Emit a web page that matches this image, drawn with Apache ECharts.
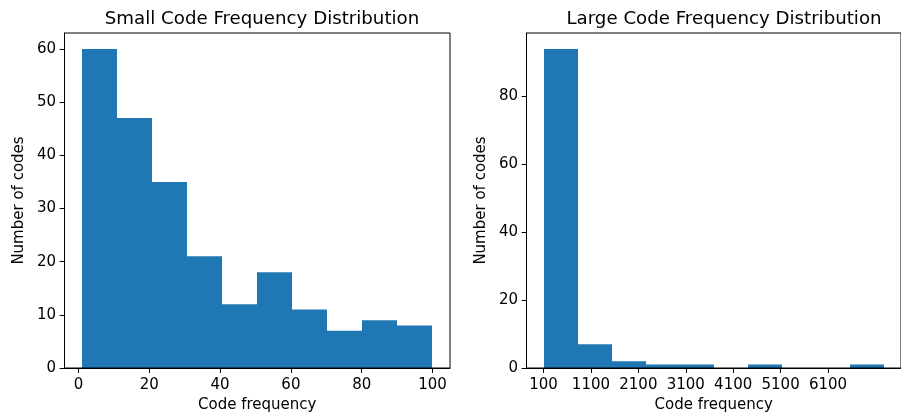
<!DOCTYPE html>
<html>
<head>
<meta charset="utf-8">
<script src="https://cdn.jsdelivr.net/npm/echarts@6/dist/echarts.min.js"></script>
<style>
  html, body { margin: 0; padding: 0; background: #fff; overflow: hidden; }
  #chart { width: 901px; height: 418px; }
</style>
</head>
<body>
<div id="chart"></div>
<script>
// Histogram bin edges and counts
const smallEdges = [1, 10.9, 20.8, 30.7, 40.6, 50.5, 60.4, 70.3, 80.2, 90.1, 100];
const smallCounts = [60, 47, 35, 21, 12, 18, 11, 7, 9, 8];
const largeEdges = [100, 818, 1536, 2254, 2972, 3690, 4408, 5126, 5844, 6562, 7280];
const largeCounts = [94, 7, 2, 1, 1, 0, 1, 0, 0, 1];

// Tick positions
const smallXTicks = [0, 20, 40, 60, 80, 100];
const smallYTicks = [0, 10, 20, 30, 40, 50, 60];
const largeXTicks = [100, 1100, 2100, 3100, 4100, 5100, 6100];
const largeYTicks = [0, 20, 40, 60, 80];

const titles = ['Small Code Frequency Distribution', 'Large Code Frequency Distribution'];
const xName = 'Code frequency';
const yName = 'Number of codes';

const FONT = 'DejaVu Sans';
const BAR = '#1f77b4';
const INK = '#000';
const TICK_FONT = 15;
const NAME_FONT = 15;
const TITLE_FONT = 18.2;

function binRows(edges, counts) {
  return counts.map((c, i) => [edges[i], edges[i + 1], c]);
}

// One rectangle per bin, snapped to whole pixels so neighbouring bins meet without seams
function renderBin(params, api) {
  const p0 = api.coord([api.value(0), api.value(2)]);
  const p1 = api.coord([api.value(1), 0]);
  const x0 = Math.round(p0[0]);
  const x1 = Math.round(p1[0]);
  const h = p1[1] - p0[1];
  if (h <= 0) return null;
  return {
    type: 'rect',
    shape: { x: x0, y: p0[1], width: x1 - x0, height: h },
    style: { fill: BAR }
  };
}

const plain = v => String(v);

function xAxisDef(idx, min, max, ticks) {
  return {
    type: 'value', gridIndex: idx, min: min, max: max, z: 5,
    name: xName, nameLocation: 'middle', nameGap: 30,
    nameTextStyle: { fontFamily: FONT, fontSize: NAME_FONT, color: INK },
    axisLine: { show: true, onZero: false, lineStyle: { color: INK, width: 1 } },
    axisTick: { show: true, length: 4.9, customValues: ticks, lineStyle: { color: INK, width: 1 } },
    axisLabel: { customValues: ticks, margin: 9.5, fontFamily: FONT, fontSize: TICK_FONT, color: INK,
                 formatter: plain, showMinLabel: true, showMaxLabel: true, hideOverlap: false },
    splitLine: { show: false }
  };
}

function yAxisDef(idx, max, ticks) {
  return {
    type: 'value', gridIndex: idx, min: 0, max: max, z: 5,
    name: yName, nameLocation: 'middle', nameGap: 37.5,
    nameTextStyle: { fontFamily: FONT, fontSize: NAME_FONT, color: INK },
    axisLine: { show: true, onZero: false, lineStyle: { color: INK, width: 1 } },
    axisTick: { show: true, length: 4.9, customValues: ticks, lineStyle: { color: INK, width: 1 } },
    axisLabel: { customValues: ticks, margin: 8.4, fontFamily: FONT, fontSize: TICK_FONT, color: INK,
                 formatter: plain, showMinLabel: true, showMaxLabel: true, hideOverlap: false },
    splitLine: { show: false }
  };
}

const chart = echarts.init(document.getElementById('chart'), null, { renderer: 'canvas' });

chart.setOption({
  animation: false,
  backgroundColor: '#fff',
  title: [
    { text: titles[0], left: 257, top: 5, textAlign: 'center',
      textStyle: { fontFamily: FONT, fontSize: TITLE_FONT, fontWeight: 'normal', color: INK } },
    { text: titles[1], left: 719, top: 5, textAlign: 'center',
      textStyle: { fontFamily: FONT, fontSize: TITLE_FONT, fontWeight: 'normal', color: INK } }
  ],
  grid: [
    { left: 64.5, right: 451, top: 33, bottom: 49, show: true, borderColor: INK, borderWidth: 1, z: 5 },
    { left: 526.5, right: -11, top: 33, bottom: 49, show: true, borderColor: INK, borderWidth: 1, z: 5 }
  ],
  xAxis: [
    xAxisDef(0, -3.95, 104.95, smallXTicks),
    xAxisDef(1, -259, 7639, largeXTicks)
  ],
  yAxis: [
    yAxisDef(0, 63, smallYTicks),
    yAxisDef(1, 98.7, largeYTicks)
  ],
  series: [
    { type: 'custom', xAxisIndex: 0, yAxisIndex: 0, renderItem: renderBin,
      encode: { x: [0, 1], y: 2 }, data: binRows(smallEdges, smallCounts), z: 2 },
    { type: 'custom', xAxisIndex: 1, yAxisIndex: 1, renderItem: renderBin,
      encode: { x: [0, 1], y: 2 }, data: binRows(largeEdges, largeCounts), z: 2 }
  ]
});
</script>
</body>
</html>
